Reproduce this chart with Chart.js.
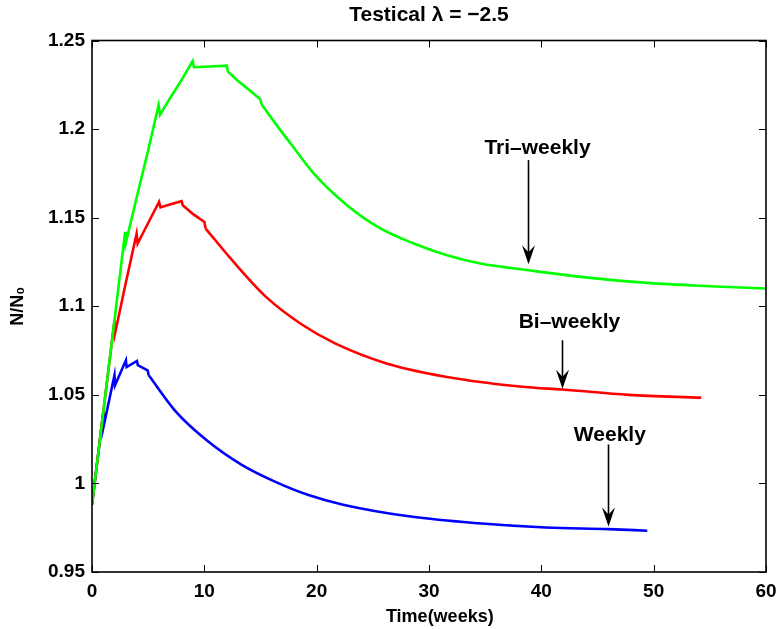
<!DOCTYPE html>
<html>
<head>
<meta charset="utf-8">
<script src="https://cdn.jsdelivr.net/npm/chart.js@4.4.1/dist/chart.umd.min.js"></script>
<style>
html,body{margin:0;padding:0;background:#fff;}
#wrap{width:779px;height:629px;}
</style>
</head>
<body>
<div id="wrap"><canvas id="c" width="779" height="629"></canvas></div>
<script>
// ---- data ----
const triWeeks  = [0, 1, 2, 2.95, 3.02, 4, 5, 5.93, 6.05, 7, 8, 8.96, 9.08, 10, 11, 12.0, 12.1, 13, 14, 14.98, 15.08, 16.77, 17.66, 19.73, 22.7, 25.67, 28.64, 31.6, 34.58, 38.88, 43.48, 49.4, 55, 60];
const triValues = [0.988, 1.040, 1.092, 1.142, 1.136, 1.162, 1.188, 1.2136, 1.208, 1.218, 1.228, 1.2384, 1.2349, 1.2352, 1.2355, 1.2358, 1.2324, 1.2272, 1.222, 1.2168, 1.214, 1.1994, 1.192, 1.175, 1.157, 1.1439, 1.1354, 1.1288, 1.1241, 1.1203, 1.1166, 1.1132, 1.1113, 1.110];
const triSmoothFrom = 20;   // index where the smooth wash-out phase begins

const biWeeks  = [0, 1, 2, 2.05, 3, 3.97, 4.06, 5, 5.97, 6.1, 7, 7.98, 8.08, 9, 10.01, 10.1, 12.47, 15.54, 18.61, 21.68, 26.29, 32.43, 38.57, 41.88, 47.78, 54.23];
const biValues = [0.988, 1.040, 1.092, 1.0846, 1.113, 1.141, 1.1354, 1.147, 1.1589, 1.1558, 1.1576, 1.1593, 1.157, 1.152, 1.1476, 1.144, 1.126, 1.105, 1.090, 1.0789, 1.0676, 1.0592, 1.0544, 1.053, 1.050, 1.0484];
const biSmoothFrom = 15;

const wkWeeks  = [0, 1, 1.02, 2.0, 2.05, 3.02, 3.08, 4.0, 4.08, 4.95, 5.05, 7.4, 10.32, 13.33, 16.33, 19.34, 22.35, 28.37, 34.38, 40.4, 45.97, 49.43];
const wkValues = [0.988, 1.040, 1.0318, 1.061, 1.0554, 1.0695, 1.0657, 1.0691, 1.0668, 1.0638, 1.061, 1.041, 1.0238, 1.0105, 1.0009, 0.9933, 0.988, 0.9813, 0.9775, 0.9751, 0.9742, 0.9733];
const wkSmoothFrom = 10;

const seriesNames  = ['Tri-weekly', 'Bi-weekly', 'Weekly'];
const seriesColors = ['#00ff00', '#ff0000', '#0000ff'];

const xTickValues = [0, 10, 20, 30, 40, 50, 60];
const xTickLabels = ['0', '10', '20', '30', '40', '50', '60'];
const yTickValues = [0.95, 1.0, 1.05, 1.1, 1.15, 1.2, 1.25];
const yTickLabels = ['0.95', '1', '1.05', '1.1', '1.15', '1.2', '1.25'];

const titleText  = 'Testical \u03bb = \u22122.5';
const xAxisTitle = '\u2003\u2009Time(weeks)';
const yAxisTitle = 'N/N\u2080';

// annotations (data coordinates)
const annoLabels  = ['Tri\u2013weekly', 'Bi\u2013weekly', 'Weekly'];
const annoTextX   = [39.66, 42.5, 46.1];
const annoTextY   = [1.1891, 1.0909, 1.0271];
const arrowX      = [38.85, 41.88, 45.95];
const arrowFromY  = [1.1825, 1.0808, 1.022];
const arrowToY    = [1.1237, 1.0535, 0.9757];

// ---- chart ----
const FONT = '"Liberation Sans", Arial, Helvetica, sans-serif';
const toPts = (xs, ys, a, b) => xs.slice(a, b).map((x, i) => ({x: x, y: ys[a + i]}));

const framePlugin = {
  id: 'frame',
  afterDatasetsDraw(chart) {
    const {ctx, chartArea: a, scales: {x, y}} = chart;
    ctx.save();
    ctx.strokeStyle = '#000';
    ctx.lineWidth = 1;
    const L = 7;
    ctx.beginPath();
    x.ticks.forEach(t => {
      const px = Math.round(x.getPixelForValue(t.value)) + 0.5;
      ctx.moveTo(px, a.bottom); ctx.lineTo(px, a.bottom - L);
      ctx.moveTo(px, a.top); ctx.lineTo(px, a.top + L);
    });
    y.ticks.forEach(t => {
      const py = Math.round(y.getPixelForValue(t.value)) + 0.5;
      ctx.moveTo(a.left, py); ctx.lineTo(a.left + L, py);
      ctx.moveTo(a.right, py); ctx.lineTo(a.right - L, py);
    });
    ctx.stroke();
    ctx.lineWidth = 1.6;
    ctx.strokeRect(a.left, a.top, a.right - a.left, a.bottom - a.top);

    // annotations with arrows
    ctx.fillStyle = '#000';
    ctx.font = 'bold 21px ' + FONT;
    ctx.textAlign = 'center';
    ctx.textBaseline = 'middle';
    annoLabels.forEach((lab, i) => {
      ctx.fillText(lab, x.getPixelForValue(annoTextX[i]), y.getPixelForValue(annoTextY[i]));
      const ax = Math.round(x.getPixelForValue(arrowX[i])) + 0.5;
      const y1 = y.getPixelForValue(arrowFromY[i]);
      const y2 = y.getPixelForValue(arrowToY[i]);
      ctx.lineWidth = 1.6;
      ctx.beginPath();
      ctx.moveTo(ax, y1); ctx.lineTo(ax, y2 - 10);
      ctx.stroke();
      ctx.beginPath();
      ctx.moveTo(ax, y2);
      ctx.lineTo(ax - 6.5, y2 - 19);
      ctx.lineTo(ax, y2 - 12);
      ctx.lineTo(ax + 6.5, y2 - 19);
      ctx.closePath();
      ctx.fill();
    });
    ctx.restore();
  }
};

const series = [
  [triWeeks, triValues, triSmoothFrom],
  [biWeeks, biValues, biSmoothFrom],
  [wkWeeks, wkValues, wkSmoothFrom]
];
const datasets = [];
series.forEach(([xs, ys, k], i) => {
  // dosing phase: straight segments with sharp notches
  datasets.push({
    label: seriesNames[i],
    data: toPts(xs, ys, 0, k + 1),
    borderColor: seriesColors[i], backgroundColor: seriesColors[i],
    borderWidth: 2.6, pointRadius: 0, tension: 0, fill: false,
    borderJoinStyle: 'miter', order: i
  });
  // wash-out phase: smooth decay
  datasets.push({
    label: seriesNames[i] + ' (wash-out)',
    data: toPts(xs, ys, k, xs.length),
    borderColor: seriesColors[i], backgroundColor: seriesColors[i],
    borderWidth: 2.6, pointRadius: 0, cubicInterpolationMode: 'monotone', fill: false,
    borderJoinStyle: 'round', order: i
  });
});

new Chart(document.getElementById('c'), {
  type: 'line',
  data: { datasets: datasets },
  options: {
    responsive: false,
    animation: false,
    devicePixelRatio: 1,
    layout: { padding: { left: 0, right: 13, top: 0, bottom: 0 } },
    plugins: {
      legend: { display: false },
      tooltip: { enabled: false },
      title: {
        display: true,
        text: titleText,
        color: '#000',
        fullSize: false,
        font: { family: FONT, size: 21, weight: 'bold' },
        padding: { top: 3, bottom: 12.3 }
      }
    },
    scales: {
      x: {
        type: 'linear',
        min: 0, max: 60,
        afterBuildTicks: s => { s.ticks = xTickValues.map(v => ({value: v})); },
        afterFit: s => { s.height = 57; s.paddingLeft = 0; s.paddingRight = 0; },
        grid: { display: false, drawTicks: false },
        border: { display: false },
        ticks: {
          color: '#000',
          padding: 8,
          maxRotation: 0,
          font: { family: FONT, size: 19, weight: 'bold' },
          callback: (v) => { const i = xTickValues.indexOf(v); return i >= 0 ? xTickLabels[i] : ''; }
        },
        title: {
          display: true,
          text: xAxisTitle,
          color: '#000',
          font: { family: FONT, size: 18, weight: 'bold' },
          padding: { top: 0, bottom: 1 }
        }
      },
      y: {
        type: 'linear',
        min: 0.95, max: 1.25,
        afterBuildTicks: s => { s.ticks = yTickValues.map(v => ({value: v})); },
        afterFit: s => { s.width = 92; },
        grid: { display: false, drawTicks: false },
        border: { display: false },
        ticks: {
          color: '#000',
          padding: 7,
          font: { family: FONT, size: 19, weight: 'bold' },
          callback: (v) => { const i = yTickValues.findIndex(t => Math.abs(t - v) < 1e-9); return i >= 0 ? yTickLabels[i] : ''; }
        },
        title: {
          display: true,
          text: yAxisTitle,
          color: '#000',
          font: { family: FONT, size: 18, weight: 'bold' },
          padding: { top: 7, bottom: 0 }
        }
      }
    }
  },
  plugins: [framePlugin]
});
</script>
</body>
</html>
